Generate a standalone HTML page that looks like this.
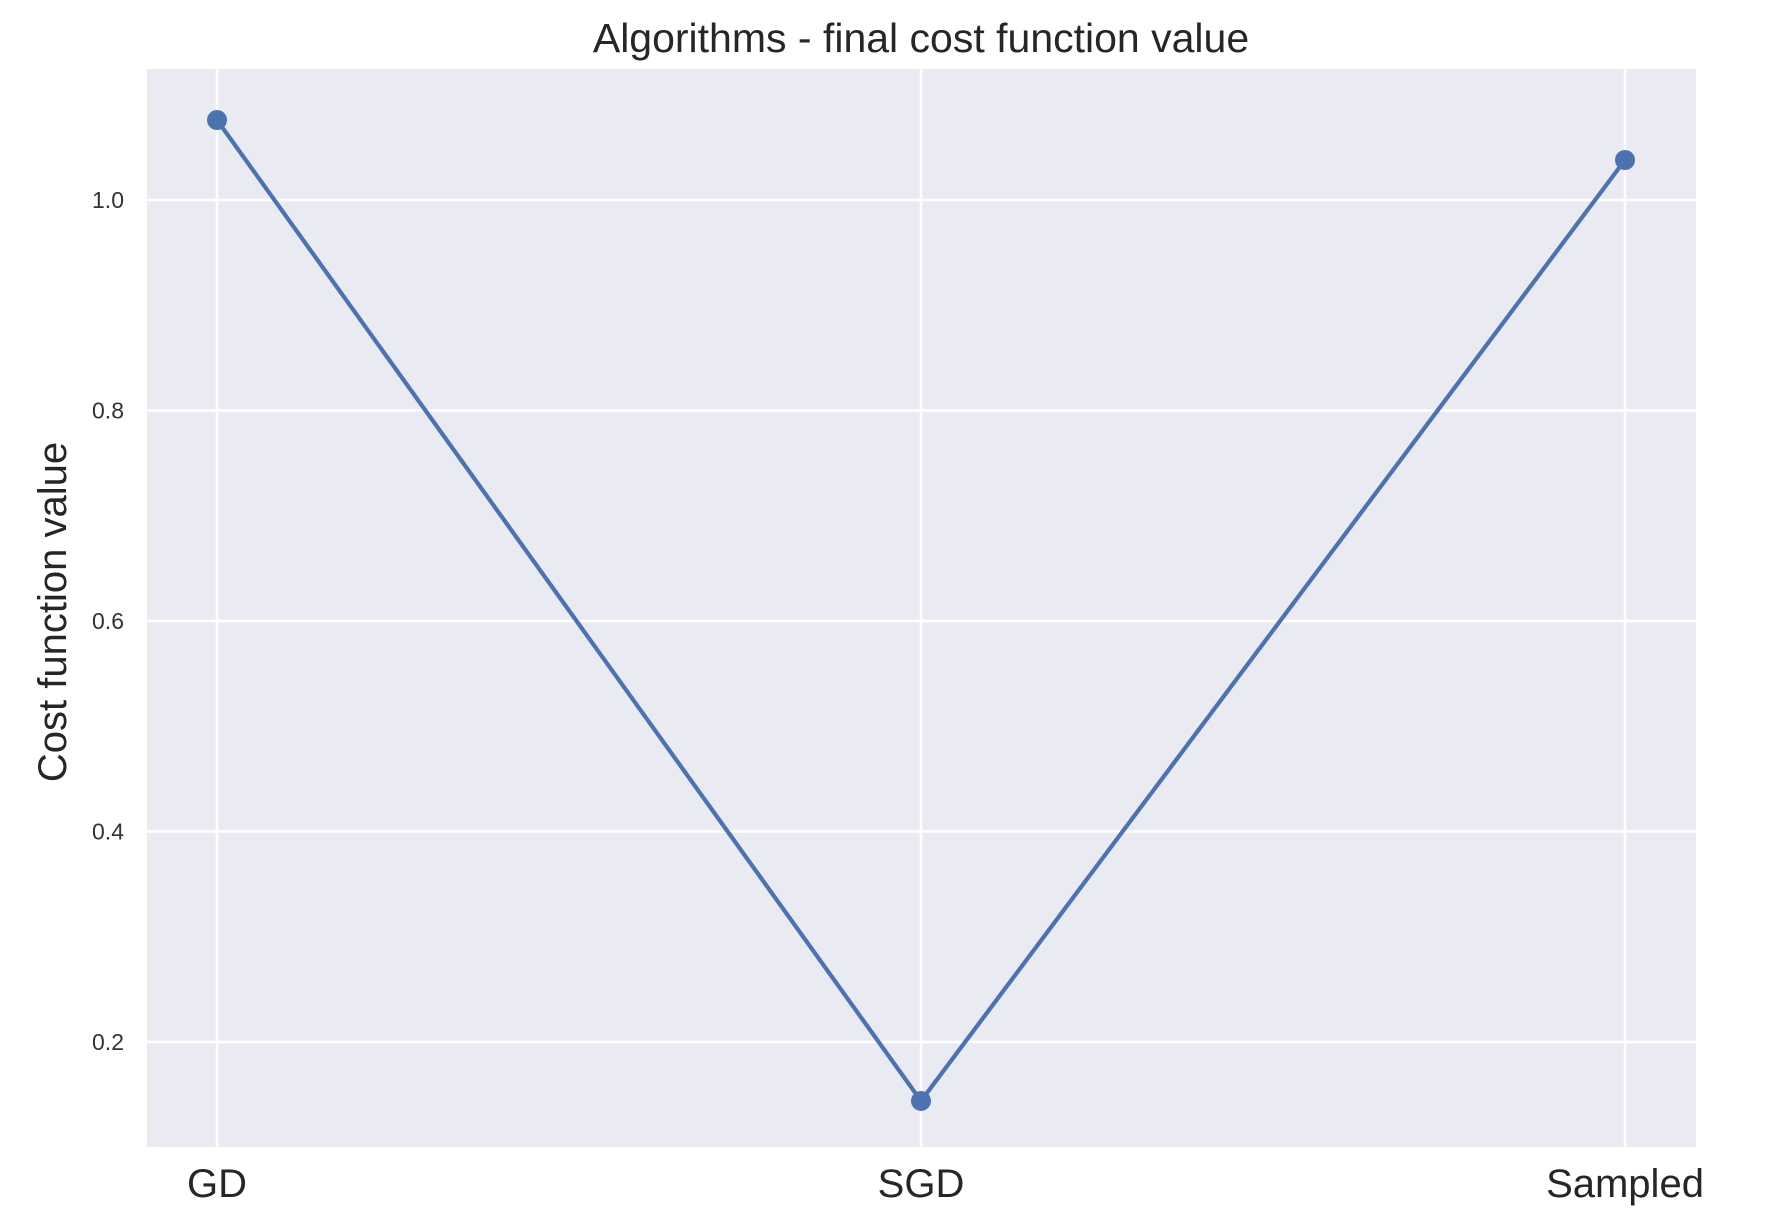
<!DOCTYPE html>
<html><head><meta charset="utf-8"><style>
html,body{margin:0;padding:0;background:#fff;}
svg{display:block;font-family:"Liberation Sans",Arial,sans-serif;}
</style></head><body>
<svg id="chart" width="1792" height="1230" viewBox="0 0 1792 1230" xmlns="http://www.w3.org/2000/svg">
<rect x="147" y="69" width="1549" height="1078" fill="#EAEAF2"/>
<g id="grid"></g>
<g id="marks"></g>
<g id="labels"></g>
<text x="921" y="52" font-size="41" text-anchor="middle" fill="#262626">Algorithms - final cost function value</text>
<text transform="translate(66,612) rotate(-90)" font-size="40" text-anchor="middle" fill="#262626">Cost function value</text>
</svg>
<script>
const categories = ["GD", "SGD", "Sampled"];
const costValues = [1.076, 0.144, 1.038];
const yTickValues = [0.2, 0.4, 0.6, 0.8, 1.0];
const yTickLabels = ["0.2", "0.4", "0.6", "0.8", "1.0"];

const NS = "http://www.w3.org/2000/svg";
const plotLeft = 147, plotRight = 1696, plotTop = 69, plotBottom = 1147;
function xScale(i){ return 217 + i * (1625 - 217) / (categories.length - 1); }
function yScale(v){ return 200 + (1.0 - v) * (1042 - 200) / 0.8; }
function mk(tag, attrs, parent){ const e = document.createElementNS(NS, tag); for (const k in attrs) e.setAttribute(k, attrs[k]); parent.appendChild(e); return e; }
const gridG = document.getElementById('grid'), marksG = document.getElementById('marks'), labelsG = document.getElementById('labels');

yTickValues.forEach((v, i) => {
  const y = yScale(v);
  const l = mk('line', {x1: plotLeft, x2: plotRight, y1: y, y2: y, stroke: '#fff', 'stroke-width': 2.5}, gridG);
  
  
  const t = mk('text', {x: 124, y: y + 8, 'font-size': 23, 'text-anchor': 'end', fill: '#333'}, labelsG);
  
  
  t.textContent = yTickLabels[i];
});
categories.forEach((c, i) => {
  const x = xScale(i);
  const l = mk('line', {x1: x, x2: x, y1: plotTop, y2: plotBottom, stroke: '#fff', 'stroke-width': 2.5}, gridG);
  
  
  const t = mk('text', {x: x, y: 1197, 'font-size': 40, 'text-anchor': 'middle', fill: '#262626'}, labelsG);
  
  
  t.textContent = c;
});
const pts = costValues.map((v, i) => xScale(i) + ',' + yScale(v)).join(' ');
const line = mk('polyline', {points: pts, fill: 'none', stroke: '#4C72B0', 'stroke-width': 4.2, 'stroke-linejoin': 'round'}, marksG);


costValues.forEach((v, i) => {
  const c = mk('circle', {cx: xScale(i), cy: yScale(v), r: 10, fill: '#4C72B0'}, marksG);
  
  
});
</script>
</body></html>
